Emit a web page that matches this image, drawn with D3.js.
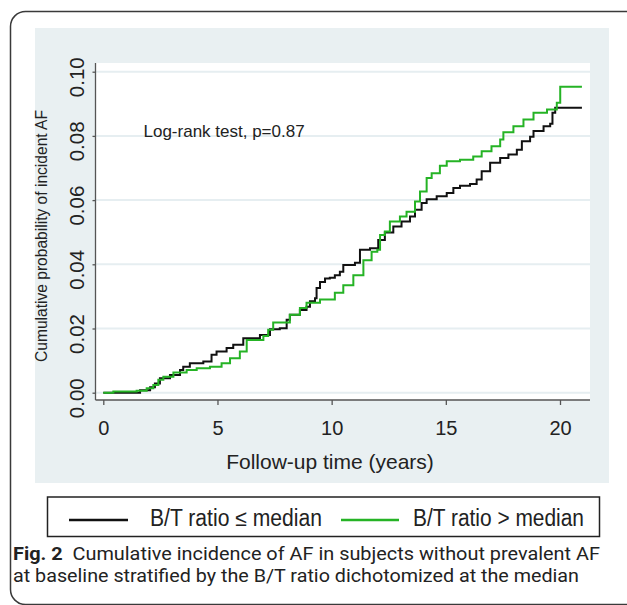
<!DOCTYPE html>
<html><head><meta charset="utf-8">
<script src="https://cdn.jsdelivr.net/npm/d3@7"></script>
<style>body{margin:0;background:#fff}svg{display:block}</style>
</head><body>
<svg id="c" width="627" height="605"></svg>
<script>
// ---- data ----
const xTicks = [0, 5, 10, 15, 20];
const yTicks = [0, 0.02, 0.04, 0.06, 0.08, 0.10];
const seriesNames = ["B/T ratio \u2264 median", "B/T ratio > median"];
const lowTimes = [0, 1.61, 2.05, 2.26, 2.48, 2.92, 3.36, 3.5, 3.79, 4.38, 4.74, 4.96, 5.4, 5.69, 6.13, 6.86, 7.3, 7.73, 8.03, 8.17, 8.61, 8.9, 9.05, 9.27, 9.34, 9.49, 9.71, 9.92, 10.14, 10.36, 10.51, 11.02, 11.24, 11.68, 12.04, 12.33, 12.7, 13.06, 13.43, 13.65, 13.94, 14.16, 14.6, 15.04, 15.33, 15.62, 16.06, 16.35, 16.57, 16.94, 17.38, 17.74, 18.11, 18.33, 18.69, 18.84, 19.28, 19.57, 19.67, 19.79, 20.96];
const lowValues = [0, 0.0008, 0.0017, 0.0029, 0.0045, 0.0055, 0.0071, 0.0081, 0.0092, 0.0097, 0.0118, 0.0128, 0.0139, 0.0149, 0.017, 0.018, 0.0198, 0.0201, 0.0227, 0.0243, 0.0258, 0.0268, 0.0285, 0.0294, 0.0326, 0.0345, 0.0356, 0.0358, 0.0366, 0.0377, 0.0398, 0.0405, 0.0445, 0.045, 0.0476, 0.0499, 0.0518, 0.0533, 0.0549, 0.057, 0.0591, 0.0603, 0.0612, 0.0622, 0.0638, 0.0645, 0.065, 0.0664, 0.069, 0.0716, 0.0731, 0.0742, 0.0757, 0.0783, 0.0797, 0.0815, 0.083, 0.0838, 0.0872, 0.0888, 0.0888];
const highTimes = [0, 0.44, 1.46, 1.9, 2.19, 2.41, 2.63, 3.07, 3.65, 4.09, 4.67, 5.18, 5.55, 5.98, 6.28, 7.01, 7.22, 7.44, 8.17, 8.61, 8.9, 9.49, 10.14, 10.51, 10.95, 11.39, 11.75, 12.0, 12.12, 12.33, 12.55, 12.99, 13.28, 13.65, 13.87, 14.16, 14.38, 14.74, 15.04, 15.62, 16.2, 16.57, 17.0, 17.38, 17.52, 17.96, 18.4, 18.84, 19.43, 19.86, 20.01, 20.96];
const highValues = [0, 0.0004, 0.0006, 0.0014, 0.0024, 0.004, 0.005, 0.0063, 0.0071, 0.0076, 0.0081, 0.0092, 0.0107, 0.0128, 0.0164, 0.0177, 0.0196, 0.0219, 0.0243, 0.0264, 0.028, 0.029, 0.0311, 0.0335, 0.0366, 0.0413, 0.0439, 0.0445, 0.0491, 0.0502, 0.0533, 0.0549, 0.0564, 0.0596, 0.0627, 0.0669, 0.0684, 0.0707, 0.0721, 0.0726, 0.0736, 0.0752, 0.0768, 0.0789, 0.0811, 0.083, 0.0851, 0.0872, 0.0882, 0.0903, 0.0953, 0.0953];
const logRankText = "Log-rank test, p=0.87";
const xTitle = "Follow-up time (years)";
const yTitle = "Cumulative probability of incident AF";
const captionBold = "Fig. 2";
const captionLine1 = "  Cumulative incidence of AF in subjects without prevalent AF";
const captionLine2 = "at baseline stratified by the B/T ratio dichotomized at the median";
const colors = ["#111111", "#25b325"];

// ---- drawing ----
const svg = d3.select("#c");
const font = "'Liberation Sans', Arial, sans-serif";

// card
svg.append("rect").attr("x", 10.5).attr("y", 11.5).attr("width", 650).attr("height", 593)
  .attr("rx", 15).attr("fill", "#fff").attr("stroke", "#3a3a3a").attr("stroke-width", 1.5);
// graph background
svg.append("rect").attr("x", 35).attr("y", 28).attr("width", 574).attr("height", 455).attr("fill", "#e9f0f2");

const x = d3.scaleLinear().domain([0, 20]).range([103.3, 560]);
const y = d3.scaleLinear().domain([0, 0.10]).range([392.7, 71.7]);
const pL = 95.5, pR = 590, pT = 63, pB = 400;

svg.append("rect").attr("x", pL).attr("y", pT).attr("width", pR - pL).attr("height", pB - pT).attr("fill", "#fff");

// gridlines
svg.append("g").selectAll("line").data(yTicks).join("line")
  .attr("x1", pL).attr("x2", pR).attr("y1", d => y(d)).attr("y2", d => y(d))
  .attr("stroke", "#e6eef1").attr("stroke-width", 2);

// y axis
const gy = svg.append("g").attr("transform", `translate(${pL},0)`)
  .call(d3.axisLeft(y).tickValues(yTicks).tickFormat(d3.format(".2f")).tickSize(3).tickSizeOuter(0));
gy.select(".domain").remove();
gy.append("line").attr("x1", 0).attr("x2", 0).attr("y1", pT).attr("y2", pB).attr("stroke", "#555").attr("stroke-width", 1.3);
gy.selectAll(".tick line").attr("stroke", "#555").attr("stroke-width", 1.3);
gy.selectAll(".tick text").attr("x", null).attr("dy", null)
  .attr("transform", "translate(-11.5,5) rotate(-90)")
  .attr("text-anchor", "middle").attr("fill", "#222")
  .style("font-family", font).style("font-size", "20.5px");

// x axis
const gx = svg.append("g").attr("transform", `translate(0,${pB})`)
  .call(d3.axisBottom(x).tickValues(xTicks).tickFormat(d3.format("d")).tickSize(5).tickSizeOuter(0));
gx.select(".domain").remove();
gx.append("line").attr("x1", pL).attr("x2", pR).attr("y1", 0).attr("y2", 0).attr("stroke", "#555").attr("stroke-width", 1.3);
gx.selectAll(".tick line").attr("stroke", "#555").attr("stroke-width", 1.3);
gx.selectAll(".tick text").attr("y", 34.5).attr("dy", null).attr("fill", "#222")
  .style("font-family", font).style("font-size", "20px");

// axis titles
svg.append("text").attr("x", 330).attr("y", 468.5).attr("text-anchor", "middle")
  .style("font-family", font).style("font-size", "21px").attr("fill", "#222").text(xTitle);
svg.append("text").attr("transform", "translate(46.5,236) rotate(-90)").attr("text-anchor", "middle")
  .attr("textLength", 252).attr("lengthAdjust", "spacingAndGlyphs")
  .style("font-family", font).style("font-size", "16px").attr("fill", "#222").text(yTitle);

// curves
const line = d3.line().x(d => x(d[0])).y(d => y(d[1])).curve(d3.curveStepAfter);
const series = [d3.zip(lowTimes, lowValues), d3.zip(highTimes, highValues)];
svg.append("g").selectAll("path").data(series).join("path")
  .attr("d", line).attr("fill", "none")
  .attr("stroke", (d, i) => colors[i]).attr("stroke-width", 2);

// annotation
svg.append("text").attr("x", 143.5).attr("y", 137.3)
  .style("font-family", font).style("font-size", "17px").attr("fill", "#222").text(logRankText);

// legend
svg.append("rect").attr("x", 47.5).attr("y", 497).attr("width", 552).attr("height", 39.5)
  .attr("fill", "#fff").attr("stroke", "#222").attr("stroke-width", 1.5);
const legX = [[69, 128, 150, 172], [341, 399, 413, 171]];
legX.forEach((p, i) => {
  svg.append("line").attr("x1", p[0]).attr("x2", p[1]).attr("y1", 520).attr("y2", 520)
    .attr("stroke", colors[i]).attr("stroke-width", 2.5);
  svg.append("text").attr("x", p[2]).attr("y", 525.5)
    .attr("textLength", p[3]).attr("lengthAdjust", "spacingAndGlyphs")
    .style("font-family", font).style("font-size", "23px").attr("fill", "#222").text(seriesNames[i]);
});

// caption
const capFont = "Roboto, 'Noto Sans', sans-serif";
const c1 = svg.append("text").attr("x", 13).attr("y", 560)
  .attr("textLength", 587).attr("lengthAdjust", "spacingAndGlyphs")
  .style("font-family", capFont).style("font-size", "18.5px").attr("fill", "#222")
  .attr("xml:space", "preserve");
c1.append("tspan").style("font-weight", "bold").text(captionBold);
c1.append("tspan").text(captionLine1);
svg.append("text").attr("x", 13).attr("y", 581.5)
  .attr("textLength", 566).attr("lengthAdjust", "spacingAndGlyphs")
  .style("font-family", capFont).style("font-size", "18.5px").attr("fill", "#222").text(captionLine2);
</script>
</body></html>
